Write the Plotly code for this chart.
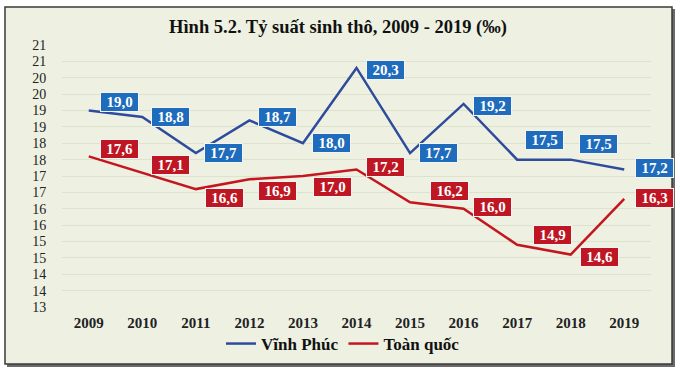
import plotly.graph_objects as go

years = [2009, 2010, 2011, 2012, 2013, 2014, 2015, 2016, 2017, 2018, 2019]
vinh_phuc = [19.0, 18.8, 17.7, 18.7, 18.0, 20.3, 17.7, 19.2, 17.5, 17.5, 17.2]
toan_quoc = [17.6, 17.1, 16.6, 16.9, 17.0, 17.2, 16.2, 16.0, 14.9, 14.6, 16.3]
y_tick_vals = [13 + 0.5 * i for i in range(17)]
y_tick_text = ["13", "14", "14", "15", "15", "16", "16", "17", "17",
               "18", "18", "19", "19", "20", "20", "21", "21"]

# label offsets in screen pixels (dx right, dy down)
vp_dx = [31, 28, 28, 28, 29, 29, 28, 29, 27, 28, 30]
vp_dy = [-9, 0, 0, -3, 0, 2, 0, 2, -20, -16, -1]
tq_dx = [31, 28, 29, 28, 30, 29, 39, 29, 35, 29, 30]
tq_dy = [-7, -8, 9, 12, 11, -2, -11, -2, -10, 2, -1]

BLUE_LINE = "#2e4b9c"
RED_LINE = "#c4161f"
BLUE_BOX = "#1f6cbd"
RED_BOX = "#be1622"
BG = "#eef1e2"
SERIF = "Liberation Serif"

fig = go.Figure()
fig.add_trace(go.Scatter(x=years, y=vinh_phuc, mode="lines", name="<b>Vĩnh Phúc</b>",
                         line=dict(color=BLUE_LINE, width=2.5)))
fig.add_trace(go.Scatter(x=years, y=toan_quoc, mode="lines", name="<b>Toàn quốc</b>",
                         line=dict(color=RED_LINE, width=2.5)))

def fmt(v):
    return f"{v:.1f}".replace(".", ",")

annotations = []
for series, dxs, dys, col in [(vinh_phuc, vp_dx, vp_dy, BLUE_BOX),
                              (toan_quoc, tq_dx, tq_dy, RED_BOX)]:
    for x, v, dx, dy in zip(years, series, dxs, dys):
        annotations.append(dict(
            x=x, y=v, xref="x", yref="y", text=f"<b>{fmt(v)}</b>",
            showarrow=False, xshift=dx, yshift=-dy,
            font=dict(family=SERIF, size=15, color="white"),
            bgcolor=col, bordercolor="#f4f4f4", borderwidth=1, borderpad=2,
            width=33, height=14,
        ))

# plot area in pixels: x 62..651, y 45..307
L, R, T, B = 62, 29, 45, 67
W, H = 680, 374
pw, ph = W - L - R, H - T - B
def px(p):
    return (p - L) / pw
def py(p):
    return (H - B - p) / ph

shapes = [
    dict(type="rect", xref="paper", yref="paper",
         x0=px(7), x1=px(675), y0=py(367), y1=py(9),
         fillcolor="#6a6a6a", line=dict(width=0), layer="below"),
    dict(type="rect", xref="paper", yref="paper",
         x0=px(5), x1=px(672), y0=py(364), y1=py(7),
         fillcolor=BG, line=dict(color="#3a3a3a", width=1.5), layer="below"),
]

fig.update_layout(
    width=W, height=H,
    margin=dict(l=L, r=R, t=T, b=B, autoexpand=False),
    paper_bgcolor="white",
    plot_bgcolor="rgba(0,0,0,0)",
    title=dict(text="<b>Hình 5.2. Tỷ suất sinh thô, 2009 - 2019 (‰)</b>",
               x=338 / W, xanchor="center", y=1 - 27 / H, yanchor="middle",
               font=dict(family=SERIF, size=18.5, color="#111111")),
    xaxis=dict(range=[2008.5, 2019.5], tickvals=years,
               ticktext=[f"<b>{y}</b>" for y in years],
               showgrid=False, zeroline=False, showline=False,
               tickfont=dict(family=SERIF, size=15, color="#222222"),
               ticks="outside", ticklen=2, tickcolor="rgba(0,0,0,0)"),
    yaxis=dict(range=[13, 21], tickvals=y_tick_vals, ticktext=y_tick_text,
               showgrid=True, gridcolor="#dde2cc", gridwidth=1,
               zeroline=False, showline=False,
               tickfont=dict(family=SERIF, size=14, color="#222222"),
               ticks="outside", ticklen=12, tickcolor="rgba(0,0,0,0)"),
    legend=dict(orientation="h", x=px(343), xanchor="center",
                y=py(344), yanchor="middle",
                font=dict(family=SERIF, size=17, color="#111111"),
                bgcolor="rgba(0,0,0,0)", itemwidth=30),
    annotations=annotations,
    shapes=shapes,
    showlegend=True,
)

fig.write_html("out.html", config={"displayModeBar": False},
               post_script="document.body.style.margin='0';document.body.style.overflow='hidden';")
